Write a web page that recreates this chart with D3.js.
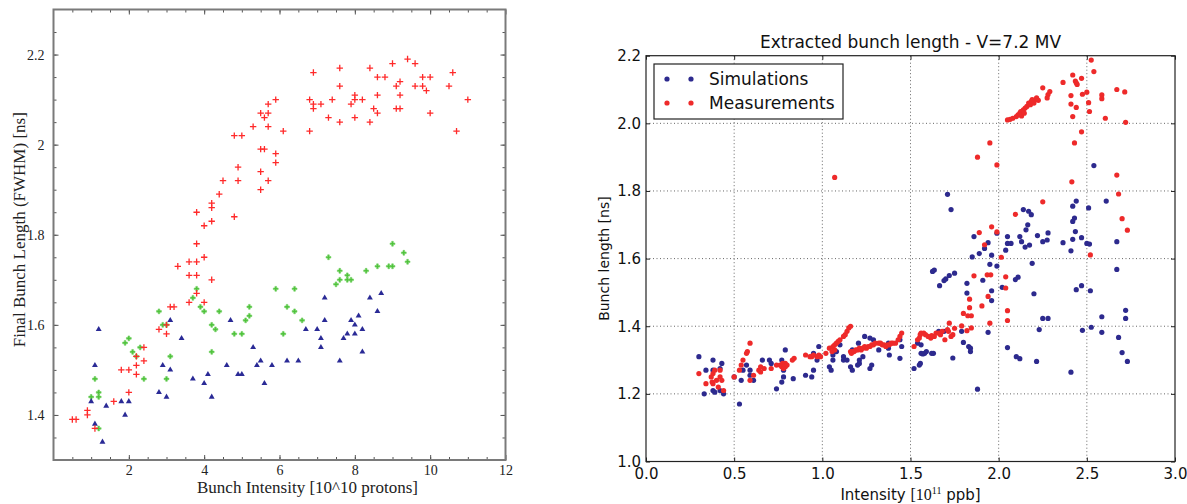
<!DOCTYPE html>
<html>
<head>
<meta charset="utf-8">
<script src="https://cdn.jsdelivr.net/npm/d3@7"></script>
<style>
html, body { margin: 0; padding: 0; background: #fff; }
svg { display: block; }
</style>
</head>
<body>
<svg id="chart" width="1187" height="504"></svg>
<script>
"use strict";

// ---------- left panel data: [intensity 1e10, bunch length ns] ----------
var leftRed = [
    [0.5,1.39],[0.6,1.39],[0.9,1.41],[0.9,1.40],[1.1,1.37],[1.6,1.43],[1.8,1.50],[2.0,1.50],[2.0,1.45],
    [2.2,1.51],[2.2,1.49],[2.2,1.53],[2.4,1.55],[2.4,1.52],[2.8,1.59],[3.0,1.58],[3.0,1.60],[3.1,1.64],
    [3.2,1.64],[3.3,1.73],[3.6,1.74],[3.6,1.71],[3.6,1.65],[3.8,1.85],[3.8,1.78],[3.8,1.74],[3.8,1.71],
    [3.8,1.67],[4.0,1.82],[4.0,1.75],[4.0,1.65],[4.2,1.87],[4.2,1.86],[4.2,1.83],[4.2,1.70],[4.4,1.89],
    [4.5,1.92],[4.8,2.02],[5.0,2.02],[4.8,1.84],[4.9,1.95],[4.9,1.92],[5.3,2.04],[5.5,2.07],[5.5,1.99],
    [5.6,1.99],[5.5,1.94],[5.5,1.90],[5.6,2.06],[5.7,2.09],[5.7,2.07],[5.7,2.04],[5.7,1.92],[5.9,2.10],
    [5.9,1.98],[5.9,1.96],[6.1,2.03],[6.8,2.10],[6.8,2.03],[6.9,2.16],[6.9,2.09],[6.9,2.08],[7.1,2.09],
    [7.3,2.06],[7.4,2.10],[7.6,2.17],[7.6,2.13],[7.6,2.05],[7.9,2.09],[8.0,2.11],[8.0,2.10],[8.0,2.06],
    [8.2,2.10],[8.4,2.17],[8.4,2.05],[8.5,2.08],[8.6,2.15],[8.6,2.11],[8.6,2.07],[8.8,2.15],[9.0,2.18],
    [9.1,2.13],[9.1,2.08],[9.2,2.14],[9.2,2.11],[9.2,2.08],[9.4,2.19],[9.6,2.18],[9.6,2.13],[9.8,2.15],
    [9.8,2.13],[9.9,2.12],[10.0,2.15],[10.0,2.07],[10.5,2.13],[10.6,2.16],[10.7,2.03],[11.0,2.10]
];
var leftGreen = [
    [1.0,1.44],[1.1,1.48],[1.2,1.45],[1.2,1.44],[1.2,1.37],[1.9,1.56],[2.0,1.57],[2.1,1.54],[2.2,1.53],
    [2.3,1.55],[2.4,1.48],[2.8,1.63],[2.9,1.60],[3.0,1.60],[3.0,1.48],[3.1,1.53],[3.7,1.66],[3.8,1.68],
    [3.9,1.64],[4.0,1.63],[4.2,1.60],[4.3,1.59],[4.2,1.54],[4.4,1.63],[4.8,1.58],[5.0,1.58],[5.1,1.61],
    [5.2,1.62],[5.2,1.64],[5.9,1.68],[6.1,1.58],[6.2,1.64],[6.4,1.68],[6.4,1.63],[6.6,1.61],[7.3,1.75],
    [7.5,1.69],[7.6,1.72],[7.6,1.70],[7.8,1.71],[7.8,1.70],[7.9,1.70],[8.3,1.72],[8.6,1.73],[8.9,1.73],
    [9.0,1.73],[9.0,1.78],[9.3,1.76],[9.4,1.74]
];
var leftBlue = [
    [1.0,1.43],[1.1,1.51],[1.1,1.38],[1.2,1.59],[1.3,1.34],[1.4,1.42],[1.8,1.43],[1.9,1.40],[2.0,1.43],
    [2.8,1.45],[2.9,1.51],[3.0,1.44],[3.1,1.61],[3.1,1.50],[3.4,1.57],[3.7,1.48],[4.0,1.47],[4.1,1.49],
    [4.2,1.44],[4.6,1.51],[4.7,1.61],[4.9,1.49],[5.0,1.49],[5.3,1.55],[5.4,1.51],[5.5,1.52],[5.6,1.47],
    [5.8,1.51],[6.2,1.52],[6.5,1.52],[6.7,1.59],[7.0,1.59],[7.1,1.57],[7.1,1.55],[7.2,1.66],[7.2,1.61],
    [7.6,1.52],[7.7,1.57],[7.8,1.58],[7.9,1.61],[8.0,1.60],[8.0,1.58],[8.1,1.62],[8.2,1.59],[8.2,1.54],
    [8.4,1.66],[8.6,1.63],[8.7,1.67]
];
var leftXTicks = [2, 4, 6, 8, 10, 12];
var leftYTicks = [1.4, 1.6, 1.8, 2, 2.2];

// ---------- right panel data: [intensity 1e11 ppb, bunch length ns] ----------
var simPoints = [
    [0.30,1.31],[0.34,1.27],[0.33,1.20],[0.38,1.30],[0.38,1.27],[0.38,1.21],[0.39,1.205],[0.42,1.21],
    [0.43,1.29],[0.42,1.275],[0.44,1.20],[0.53,1.17],[0.50,1.25],[0.54,1.24],[0.55,1.27],[0.57,1.285],
    [0.59,1.27],[0.59,1.255],[0.61,1.24],[0.66,1.30],[0.70,1.30],[0.71,1.29],[0.74,1.215],[0.77,1.235],
    [0.78,1.25],[0.77,1.30],[0.78,1.27],[0.79,1.33],[0.835,1.245],[0.905,1.255],[0.94,1.25],[0.95,1.27],
    [0.97,1.30],[0.95,1.32],[0.98,1.34],[1.04,1.28],[1.05,1.27],[1.06,1.30],[1.08,1.325],[1.10,1.345],
    [1.06,1.315],[1.12,1.31],[1.12,1.30],[1.14,1.30],[1.16,1.28],[1.17,1.27],[1.17,1.33],[1.205,1.35],
    [1.21,1.30],[1.23,1.31],[1.24,1.37],[1.27,1.365],[1.29,1.36],[1.20,1.285],[1.21,1.29],[1.27,1.275],
    [1.28,1.285],[1.32,1.33],[1.375,1.35],[1.375,1.335],[1.38,1.315],[1.44,1.305],[1.45,1.34],[1.44,1.36],
    [1.52,1.275],[1.55,1.285],[1.54,1.35],[1.56,1.345],[1.56,1.32],[1.58,1.32],[1.59,1.325],[1.63,1.32],
    [1.71,1.79],[1.73,1.745],[2.54,1.875],[2.61,1.77],[2.44,1.77],[2.42,1.755],[2.51,1.75],[2.14,1.745],
    [2.17,1.74],[2.185,1.73],[2.43,1.72],[2.165,1.70],[2.42,1.71],[2.155,1.685],[2.435,1.68],[1.86,1.665],
    [2.05,1.665],[2.12,1.665],[2.22,1.668],[2.28,1.676],[2.13,1.65],[2.05,1.645],[2.07,1.645],[2.25,1.65],
    [2.275,1.655],[2.365,1.647],[2.42,1.657],[2.47,1.662],[2.50,1.645],[2.515,1.643],[2.67,1.65],[1.94,1.647],
    [1.92,1.63],[1.96,1.61],[2.15,1.634],[2.175,1.64],[2.04,1.625],[1.99,1.675],[1.89,1.615],[1.85,1.605],
    [2.41,1.623],[1.99,1.578],[1.95,1.583],[2.19,1.586],[2.67,1.568],[1.635,1.566],[1.625,1.562],[1.665,1.52],
    [1.69,1.535],[1.70,1.54],[1.72,1.55],[1.75,1.557],[1.91,1.536],[1.82,1.527],[2.11,1.545],[2.095,1.538],
    [1.96,1.505],[1.96,1.476],[2.02,1.515],[1.82,1.498],[2.44,1.508],[2.47,1.52],[2.52,1.505],[2.20,1.496],
    [2.25,1.423],[2.28,1.423],[2.585,1.428],[2.72,1.447],[2.72,1.423],[2.23,1.39],[2.475,1.388],[2.525,1.397],
    [2.585,1.382],[1.94,1.382],[1.79,1.385],[2.68,1.367],[1.80,1.352],[1.83,1.34],[1.84,1.335],[1.84,1.325],
    [1.74,1.306],[2.05,1.337],[2.10,1.31],[2.12,1.304],[2.215,1.296],[2.70,1.322],[2.73,1.296],[2.41,1.264],
    [1.88,1.214],[1.62,1.32],[1.57,1.318],[1.556,1.29],[1.69,1.385],[1.66,1.385]
];
var measPoints = [
    [0.30,1.26],[0.34,1.23],[0.37,1.25],[0.375,1.235],[0.38,1.26],[0.38,1.23],[0.40,1.24],[0.41,1.22],
    [0.42,1.25],[0.42,1.27],[0.43,1.24],[0.44,1.21],[0.39,1.27],[0.50,1.25],[0.53,1.27],[0.54,1.285],
    [0.55,1.30],[0.57,1.32],[0.575,1.325],[0.59,1.35],[0.59,1.24],[0.61,1.255],[0.64,1.27],[0.65,1.28],
    [0.65,1.265],[0.67,1.275],[0.71,1.275],[0.74,1.285],[0.76,1.285],[0.77,1.28],[0.775,1.29],[0.78,1.285],
    [0.78,1.275],[0.79,1.29],[0.79,1.28],[0.80,1.285],[0.83,1.30],[0.84,1.305],[0.905,1.315],[0.93,1.31],
    [0.94,1.31],[0.95,1.315],[0.97,1.31],[0.98,1.315],[0.99,1.31],[1.02,1.32],[1.04,1.335],[1.06,1.34],
    [1.07,1.345],[1.08,1.35],[1.09,1.355],[1.10,1.36],[1.12,1.37],[1.13,1.375],[1.14,1.385],[1.15,1.395],
    [1.16,1.40],[1.055,1.325],[1.07,1.33],[1.16,1.325],[1.165,1.32],[1.17,1.325],[1.18,1.325],[1.19,1.33],
    [1.20,1.33],[1.21,1.335],[1.22,1.33],[1.23,1.335],[1.24,1.34],[1.25,1.335],[1.26,1.34],[1.27,1.34],
    [1.28,1.345],[1.29,1.345],[1.30,1.35],[1.32,1.35],[1.33,1.35],[1.34,1.345],[1.35,1.345],[1.36,1.34],
    [1.37,1.345],[1.38,1.345],[1.39,1.35],[1.40,1.35],[1.415,1.35],[1.43,1.36],[1.44,1.37],[1.45,1.38],
    [1.52,1.34],[1.54,1.36],[1.55,1.365],[1.555,1.375],[1.56,1.38],[1.575,1.38],[1.585,1.375],[1.60,1.37],
    [1.615,1.365],[1.62,1.372],[1.635,1.37],[1.645,1.38],[1.66,1.38],[1.67,1.375],[1.68,1.385],[1.07,1.84],
    [2.525,2.187],[2.54,2.153],[2.42,2.143],[2.435,2.125],[2.44,2.12],[2.445,2.115],[2.47,2.133],[2.365,2.121],
    [2.50,2.092],[2.475,2.086],[2.41,2.082],[2.585,2.084],[2.585,2.073],[2.67,2.10],[2.715,2.093],[2.25,2.105],
    [2.29,2.094],[2.28,2.085],[2.275,2.075],[2.05,2.01],[2.065,2.012],[2.08,2.015],[2.10,2.02],[2.11,2.025],
    [2.12,2.03],[2.13,2.022],[2.125,2.035],[2.14,2.04],[2.145,2.03],[2.15,2.045],[2.16,2.05],[2.17,2.06],
    [2.18,2.055],[2.185,2.065],[2.19,2.07],[2.20,2.06],[2.21,2.07],[2.215,2.075],[2.225,2.068],[2.41,2.057],
    [2.44,2.047],[2.51,2.061],[2.515,2.035],[2.42,2.02],[2.605,2.015],[2.72,2.003],[2.47,1.975],[2.43,1.942],
    [1.95,1.942],[1.88,1.90],[1.99,1.877],[2.67,1.847],[2.415,1.827],[2.68,1.791],[2.25,1.768],[2.095,1.731],
    [2.70,1.718],[2.73,1.684],[1.96,1.694],[1.89,1.677],[1.99,1.679],[1.92,1.641],[2.52,1.611],[2.015,1.604],
    [1.86,1.549],[1.935,1.552],[1.955,1.552],[2.04,1.546],[2.04,1.513],[1.835,1.48],[1.94,1.488],[1.905,1.46],
    [1.835,1.455],[2.05,1.446],[2.05,1.417],[1.80,1.438],[1.825,1.431],[1.845,1.431],[1.95,1.409],[1.79,1.401],
    [1.82,1.387],[1.845,1.395],[1.72,1.409],[1.75,1.394],[1.74,1.375],[1.73,1.37],[1.695,1.36],[1.71,1.39],
    [1.715,1.385]
];
var rightXTicks = [0, 0.5, 1, 1.5, 2, 2.5, 3];
var rightYTicks = [1.0, 1.2, 1.4, 1.6, 1.8, 2.0, 2.2];
var legendLabels = ["Simulations", "Measurements"];

var svg = d3.select("#chart");
var serif = "'Liberation Serif', 'Times New Roman', serif";
var sans = "'DejaVu Sans', sans-serif";

// =================== left panel ===================
var L = {left: 53.5, right: 505.5, top: 9.5, bottom: 460};
var lx = d3.scaleLinear().domain([0, 12]).range([L.left, L.right]);
var ly = d3.scaleLinear().domain([1.3, 2.3]).range([L.bottom, L.top]);
var gl = svg.append("g").attr("class", "leftPanel");

var lxMinor = d3.range(1, 24).map(function (i) { return i * 0.5; });
var lyMinor = d3.range(27, 46).map(function (i) { return i * 0.05; });

function styleAxis(g, color) {
    g.select(".domain").remove();
    g.selectAll(".tick line").attr("stroke", color);
}

// inward minor ticks on all four sides
[
    [d3.axisBottom(lx).tickValues(lxMinor), "translate(0," + L.bottom + ")"],
    [d3.axisTop(lx).tickValues(lxMinor), "translate(0," + L.top + ")"],
    [d3.axisLeft(ly).tickValues(lyMinor), "translate(" + L.left + ",0)"],
    [d3.axisRight(ly).tickValues(lyMinor), "translate(" + L.right + ",0)"]
].forEach(function (a) {
    gl.append("g").attr("transform", a[1])
        .call(a[0].tickSize(-3).tickFormat(""))
        .call(styleAxis, "#555");
});

var lxAxis = gl.append("g").attr("transform", "translate(0," + L.bottom + ")")
    .call(d3.axisBottom(lx).tickValues(leftXTicks).tickSize(-5).tickPadding(5).tickFormat(String))
    .call(styleAxis, "#555");
var lyAxis = gl.append("g").attr("transform", "translate(" + L.left + ",0)")
    .call(d3.axisLeft(ly).tickValues(leftYTicks).tickSize(-5).tickPadding(9).tickFormat(String))
    .call(styleAxis, "#555");
gl.append("g").attr("transform", "translate(" + L.right + ",0)")
    .call(d3.axisRight(ly).tickValues(leftYTicks).tickSize(-5).tickFormat(""))
    .call(styleAxis, "#555");
gl.append("g").attr("transform", "translate(0," + L.top + ")")
    .call(d3.axisTop(lx).tickValues(leftXTicks).tickSize(-5).tickFormat(""))
    .call(styleAxis, "#555");

[lxAxis, lyAxis].forEach(function (g) {
    g.selectAll("text").attr("font-family", serif).attr("font-size", 14).attr("fill", "#222");
});

gl.append("rect")
    .attr("x", L.left).attr("y", L.top)
    .attr("width", L.right - L.left).attr("height", L.bottom - L.top)
    .attr("fill", "none").attr("stroke", "#7a7a7a").attr("stroke-width", 2);

// markers
gl.append("g").selectAll("path").data(leftGreen).enter().append("path")
    .attr("transform", function (d) { return "translate(" + lx(d[0]) + "," + ly(d[1]) + ")"; })
    .attr("d", d3.symbol(d3.symbolCross, 13))
    .attr("fill", "#4fc23c").attr("stroke", "#6fd05e").attr("stroke-width", 0.6);
gl.append("g").selectAll("path").data(leftBlue).enter().append("path")
    .attr("transform", function (d) { return "translate(" + lx(d[0]) + "," + ly(d[1]) + ")"; })
    .attr("d", d3.symbol(d3.symbolTriangle, 15))
    .attr("fill", "#2a2a96");
gl.append("g").selectAll("path").data(leftRed).enter().append("path")
    .attr("transform", function (d) { return "translate(" + lx(d[0]) + "," + ly(d[1]) + ")"; })
    .attr("d", "M-3.2,0H3.2M0,-3.2V3.2")
    .attr("stroke", "#ff2a2a").attr("stroke-width", 1.3).attr("fill", "none");

gl.append("text")
    .attr("x", (L.left + L.right) / 2 + 28).attr("y", 493)
    .attr("text-anchor", "middle")
    .attr("font-family", serif).attr("font-size", 17).attr("fill", "#222")
    .text("Bunch Intensity [10^10 protons]");
gl.append("text")
    .attr("transform", "translate(25," + ((L.top + L.bottom) / 2 - 5) + ") rotate(-90)")
    .attr("text-anchor", "middle")
    .attr("font-family", serif).attr("font-size", 17).attr("fill", "#222")
    .text("Final Bunch Length (FWHM) [ns]");

// =================== right panel ===================
var R = {left: 646, right: 1175, top: 55.7, bottom: 461.5};
var rx = d3.scaleLinear().domain([0, 3]).range([R.left, R.right]);
var ry = d3.scaleLinear().domain([1.0, 2.2]).range([R.bottom, R.top]);
var gr = svg.append("g").attr("class", "rightPanel");

// dotted grid
gr.append("g").selectAll("line").data(rightXTicks.slice(1, -1)).enter().append("line")
    .attr("x1", rx).attr("x2", rx).attr("y1", R.top).attr("y2", R.bottom)
    .attr("stroke", "#666").attr("stroke-width", 1).attr("stroke-dasharray", "1,2.5");
gr.append("g").selectAll("line").data(rightYTicks.slice(1, -1)).enter().append("line")
    .attr("y1", ry).attr("y2", ry).attr("x1", R.left).attr("x2", R.right)
    .attr("stroke", "#666").attr("stroke-width", 1).attr("stroke-dasharray", "1,2.5");

var rxAxis = gr.append("g").attr("transform", "translate(0," + R.bottom + ")")
    .call(d3.axisBottom(rx).tickValues(rightXTicks).tickSize(-4).tickPadding(7).tickFormat(d3.format(".1f")))
    .call(styleAxis, "#222");
var ryAxis = gr.append("g").attr("transform", "translate(" + R.left + ",0)")
    .call(d3.axisLeft(ry).tickValues(rightYTicks).tickSize(-4).tickPadding(5).tickFormat(d3.format(".1f")))
    .call(styleAxis, "#222");
gr.append("g").attr("transform", "translate(0," + R.top + ")")
    .call(d3.axisTop(rx).tickValues(rightXTicks).tickSize(-4).tickFormat(""))
    .call(styleAxis, "#222");
gr.append("g").attr("transform", "translate(" + R.right + ",0)")
    .call(d3.axisRight(ry).tickValues(rightYTicks).tickSize(-4).tickFormat(""))
    .call(styleAxis, "#222");
[rxAxis, ryAxis].forEach(function (g) {
    g.selectAll("text").attr("font-family", sans).attr("font-size", 15).attr("fill", "#111");
});

gr.append("g").selectAll("circle").data(simPoints).enter().append("circle")
    .attr("cx", function (d) { return rx(d[0]); })
    .attr("cy", function (d) { return ry(d[1]); })
    .attr("r", 2.6).attr("fill", "#2d2a8e");
gr.append("g").selectAll("circle").data(measPoints).enter().append("circle")
    .attr("cx", function (d) { return rx(d[0]); })
    .attr("cy", function (d) { return ry(d[1]); })
    .attr("r", 2.6).attr("fill", "#ee2a2a");

gr.append("rect")
    .attr("x", R.left).attr("y", R.top)
    .attr("width", R.right - R.left).attr("height", R.bottom - R.top)
    .attr("fill", "none").attr("stroke", "#222").attr("stroke-width", 1.2);

// legend
var lg = gr.append("g").attr("transform", "translate(654,64)");
lg.append("rect").attr("width", 189).attr("height", 55)
    .attr("fill", "#fff").attr("stroke", "#222").attr("stroke-width", 1.2);
var legendColors = ["#2d2a8e", "#ee2a2a"];
legendLabels.forEach(function (label, i) {
    var cy = 15 + i * 24;
    [13, 37].forEach(function (cx) {
        lg.append("circle").attr("cx", cx).attr("cy", cy).attr("r", 2.6).attr("fill", legendColors[i]);
    });
    lg.append("text").attr("x", 55).attr("y", cy).attr("dy", "0.36em")
        .attr("font-family", sans).attr("font-size", 17).attr("fill", "#111")
        .text(label);
});

gr.append("text")
    .attr("x", (R.left + R.right) / 2).attr("y", 48)
    .attr("text-anchor", "middle")
    .attr("font-family", sans).attr("font-size", 17).attr("fill", "#111")
    .text("Extracted bunch length - V=7.2 MV");

var xl = gr.append("text")
    .attr("x", (R.left + R.right) / 2).attr("y", 500)
    .attr("text-anchor", "middle")
    .attr("font-family", sans).attr("font-size", 15).attr("fill", "#111");
xl.append("tspan").text("Intensity ");
xl.append("tspan").attr("font-family", serif).attr("font-size", 16).text("[10");
xl.append("tspan").attr("font-family", serif).attr("font-size", 10).attr("dy", -6).text("11");
xl.append("tspan").attr("dy", 6).text(" ppb]");

gr.append("text")
    .attr("transform", "translate(609," + ((R.top + R.bottom) / 2) + ") rotate(-90)")
    .attr("text-anchor", "middle")
    .attr("font-family", sans).attr("font-size", 14).attr("fill", "#111")
    .text("Bunch length [ns]");
</script>
</body>
</html>
